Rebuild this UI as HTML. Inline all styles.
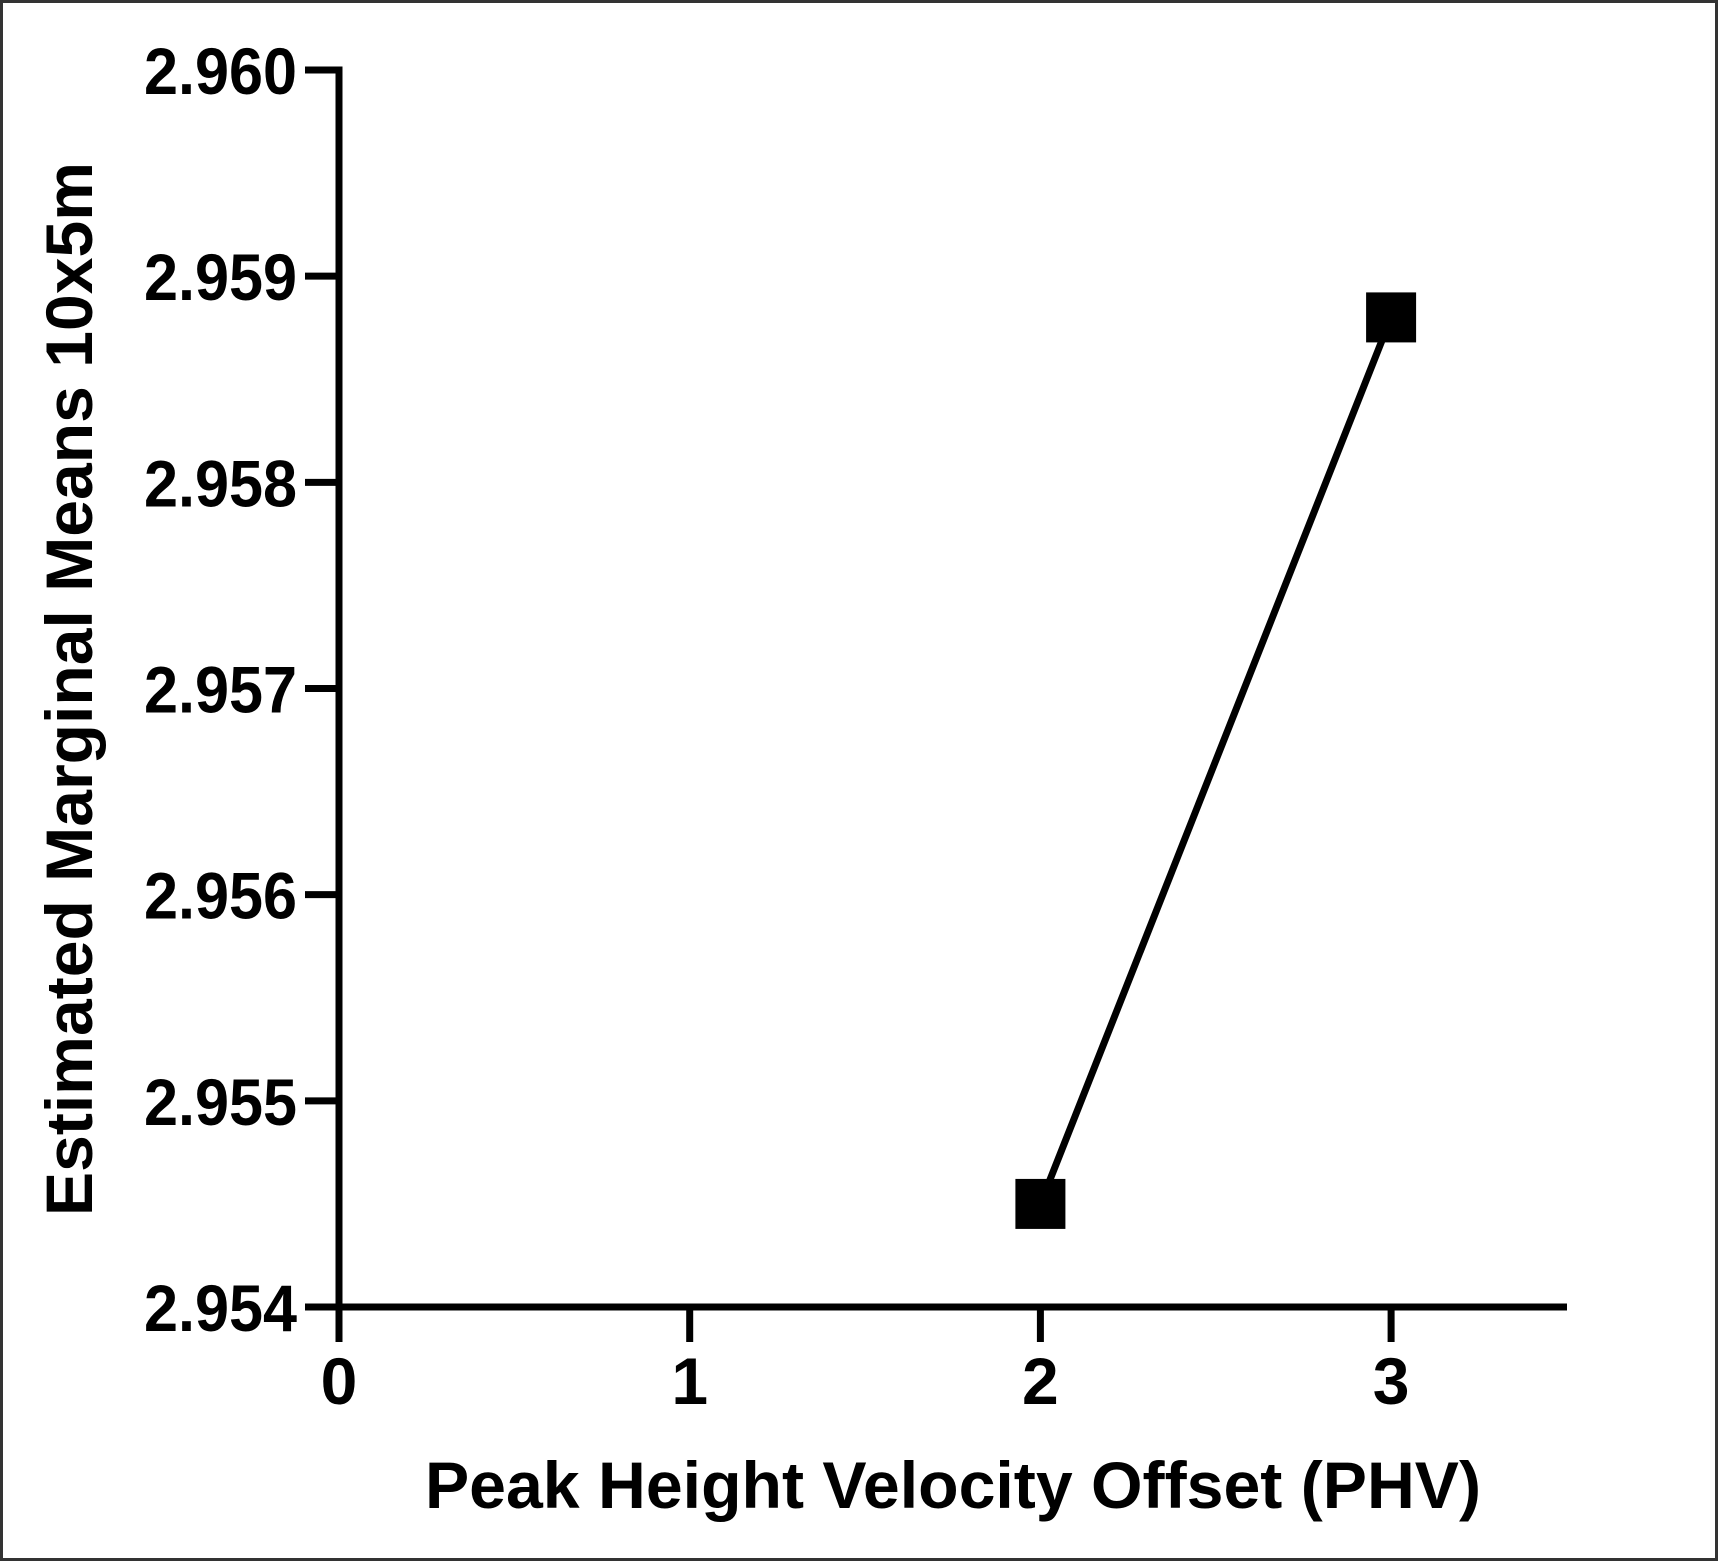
<!DOCTYPE html>
<html><head><meta charset="utf-8"><style>
html,body{margin:0;padding:0;background:#fff}
svg{display:block}
text{font-family:"Liberation Sans",Arial,sans-serif;font-weight:bold;fill:#000}
</style></head><body>
<svg id="chart" width="1718" height="1563" viewBox="0 0 1718 1563" xmlns="http://www.w3.org/2000/svg">
<rect x="1.5" y="1.5" width="1715" height="1558" fill="#fff" stroke="#333" stroke-width="3"/>
<g id="axes"></g>
<g id="marks"></g>
<text x="953" y="1508" font-size="66" text-anchor="middle" textLength="1056" lengthAdjust="spacingAndGlyphs">Peak Height Velocity Offset (PHV)</text>
<text transform="translate(92,689) rotate(-90)" font-size="66" text-anchor="middle" textLength="1054" lengthAdjust="spacingAndGlyphs">Estimated Marginal Means 10x5m</text>
</svg>
<script>
const xTicks = [0, 1, 2, 3];
const yTicks = [2.954, 2.955, 2.956, 2.957, 2.958, 2.959, 2.960];
const yTickLabels = ["2.954", "2.955", "2.956", "2.957", "2.958", "2.959", "2.960"];
const xValues = [2, 3];
const yValues = [2.9545, 2.9588];

const X0 = 339, XSTEP = 350.7, XEND = 1567;
const YMIN = 2.954, YMAX = 2.960, YB = 1307, YT = 70;
function sx(v){ return X0 + v * XSTEP; }
function sy(v){ return YB - (v - YMIN) / (YMAX - YMIN) * (YB - YT); }
const NS = "http://www.w3.org/2000/svg";
function mk(tag, attrs, parent){
  const e = document.createElementNS(NS, tag);
  for (const k in attrs) e.setAttribute(k, attrs[k]);
  parent.appendChild(e); return e;
}
const axes = document.getElementById('axes');
const marks = document.getElementById('marks');
const LW = 7;

let yl = mk('line', {x1:X0, y1:YT-3.5, x2:X0, y2:YB+35, stroke:'#000', 'stroke-width':LW}, axes);


let xl = mk('line', {x1:305, y1:YB, x2:XEND, y2:YB, stroke:'#000', 'stroke-width':LW}, axes);



yTicks.forEach((v, i) => {
  const y = sy(v);
  const t = mk('line', {x1:305, y1:y, x2:X0, y2:y, stroke:'#000', 'stroke-width':LW}, axes);
  
  
  const lb = mk('text', {x:297, y:y+24, 'font-size':66, 'text-anchor':'end', textLength:153, lengthAdjust:'spacingAndGlyphs'}, axes);
  lb.textContent = yTickLabels[i];
  
  
});
xTicks.forEach(v => {
  const x = sx(v);
  const t = mk('line', {x1:x, y1:YB, x2:x, y2:YB+35, stroke:'#000', 'stroke-width':LW}, axes);
  
  
  const lb = mk('text', {x:x, y:1404, 'font-size':66, 'text-anchor':'middle'}, axes);
  lb.textContent = String(v);
  
  
});

const pts = xValues.map((v, i) => sx(v) + ',' + sy(yValues[i])).join(' ');
const line = mk('polyline', {points:pts, fill:'none', stroke:'#000', 'stroke-width':LW}, marks);


const S = 50;
xValues.forEach((v, i) => {
  const r = mk('rect', {x:sx(v)-S/2, y:sy(yValues[i])-S/2, width:S, height:S, fill:'#000'}, marks);
  
  
});
</script>
</body></html>
